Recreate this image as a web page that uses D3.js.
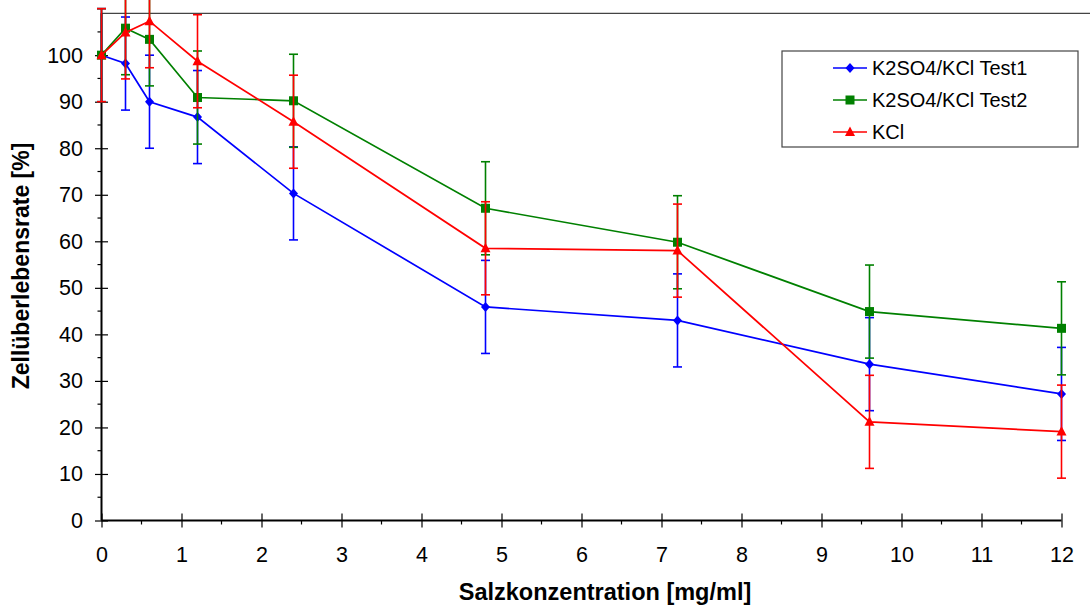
<!DOCTYPE html>
<html><head><meta charset="utf-8">
<script src="https://cdn.jsdelivr.net/npm/d3@7"></script>
<style>body{margin:0;background:#fff}svg{display:block}text{font-family:Arial,"Liberation Sans",sans-serif}</style>
</head><body><svg id="c" width="1090" height="611"></svg>
<script>
const concentrations = [0, 0.3, 0.6, 1.2, 2.4, 4.8, 7.2, 9.6, 12];
const test1 = [100, 98.2, 90.0, 86.7, 70.3, 45.9, 43.0, 33.6, 27.2];
const test1Err = [10, 10, 10, 10, 10, 10, 10, 10, 10];
const test2 = [100, 105.8, 103.4, 90.9, 90.2, 67.1, 59.8, 44.9, 41.3];
const test2Err = [10, 10, 10, 10, 10, 10, 10, 10, 10];
const kcl = [100, 104.9, 107.3, 98.7, 85.7, 58.5, 58.0, 21.2, 19.1];
const kclErr = [10, 10, 10, 10, 10, 10, 10, 10, 10];
const seriesNames = ["K2SO4/KCl Test1", "K2SO4/KCl Test2", "KCl"];
const xTicks = [0,1,2,3,4,5,6,7,8,9,10,11,12];
const yTicks = [0,10,20,30,40,50,60,70,80,90,100];

const series = [
  {name: seriesNames[0], vals: test1, err: test1Err, color: "#0000FF", marker: "diamond"},
  {name: seriesNames[1], vals: test2, err: test2Err, color: "#008000", marker: "square"},
  {name: seriesNames[2], vals: kcl, err: kclErr, color: "#FF0000", marker: "triangle"}
];

const svg = d3.select("#c");
const x = d3.scaleLinear().domain([0, 12]).range([101.5, 1061.5]);
const y = d3.scaleLinear().domain([0, 109]).range([520.5, 13.3]);

// top border line
svg.append("line").attr("x1", x(0)).attr("x2", 1090).attr("y1", y(109)).attr("y2", y(109))
  .attr("stroke", "#444").attr("stroke-width", 1.2);

// minor ticks
const yMinor = d3.range(5, 109, 10);
svg.append("g").selectAll("line").data(yMinor).join("line")
  .attr("x1", x(0) - 4).attr("x2", x(0)).attr("y1", d => y(d)).attr("y2", d => y(d))
  .attr("stroke", "#000").attr("stroke-width", 1.2);
const xMinor = d3.range(0.5, 12, 1);
svg.append("g").selectAll("line").data(xMinor).join("line")
  .attr("x1", d => x(d)).attr("x2", d => x(d)).attr("y1", y(0)).attr("y2", y(0) + 4)
  .attr("stroke", "#000").attr("stroke-width", 1.2);

// axes
const yAxis = svg.append("g").attr("transform", `translate(${x(0)},0)`)
  .call(d3.axisLeft(y).tickValues(yTicks).tickSize(6.5).tickPadding(12).tickFormat(d3.format("d")));
yAxis.selectAll(".tick line").attr("x1", 6.5).attr("x2", -6.5);
const xAxis = svg.append("g").attr("transform", `translate(0,${y(0)})`)
  .call(d3.axisBottom(x).tickValues(xTicks).tickSize(7).tickPadding(19).tickFormat(d3.format("d")));
xAxis.selectAll(".tick line").attr("y1", -7).attr("y2", 7);
[yAxis, xAxis].forEach(a => {
  a.select(".domain").attr("stroke", "#000").attr("stroke-width", 2);
  a.selectAll(".tick line").attr("stroke", "#000").attr("stroke-width", 1.2);
  a.selectAll("text").attr("font-size", 21.5).attr("fill", "#000")
    .attr("font-family", "Arial, 'Liberation Sans', sans-serif");
});
yAxis.select(".domain").attr("d", `M0,${y(0)}V${y(109)}`);
xAxis.select(".domain").attr("d", `M${x(0)},0H${x(12)}`);

// axis titles
svg.append("text").attr("transform", "translate(29,266) rotate(-90)")
  .attr("text-anchor", "middle").attr("font-size", 23).attr("font-weight", "bold").text("Zellüberlebensrate [%]");
svg.append("text").attr("x", 605).attr("y", 600)
  .attr("text-anchor", "middle").attr("font-size", 23.5).attr("font-weight", "bold").text("Salzkonzentration [mg/ml]");

function drawMarker(g, type, cx, cy, color) {
  if (type === "diamond") {
    g.append("path").attr("d", `M${cx},${cy-5}L${cx+4.5},${cy}L${cx},${cy+5}L${cx-4.5},${cy}Z`).attr("fill", color);
  } else if (type === "square") {
    g.append("rect").attr("x", cx-4.5).attr("y", cy-4.5).attr("width", 9).attr("height", 9).attr("fill", color);
  } else {
    g.append("path").attr("d", `M${cx},${cy-5.5}L${cx+5},${cy+4}L${cx-5},${cy+4}Z`).attr("fill", color);
  }
}

const line = d3.line().x(d => x(d[0])).y(d => y(d[1]));
series.forEach(s => {
  const g = svg.append("g");
  const pts = concentrations.map((c, i) => [c, s.vals[i], s.err[i]]);
  // error bars
  pts.forEach(p => {
    const cx = x(p[0]), top = y(p[1] + p[2]), bot = y(p[1] - p[2]);
    g.append("line").attr("x1", cx).attr("x2", cx).attr("y1", top).attr("y2", bot)
      .attr("stroke", s.color).attr("stroke-width", 1.6);
    [top, bot].forEach(yy => g.append("line").attr("x1", cx-4.5).attr("x2", cx+4.5).attr("y1", yy).attr("y2", yy)
      .attr("stroke", s.color).attr("stroke-width", 1.6));
  });
  g.append("path").datum(pts).attr("d", line).attr("fill", "none").attr("stroke", s.color).attr("stroke-width", 1.7);
  pts.forEach(p => drawMarker(g, s.marker, x(p[0]), y(p[1]), s.color));
});

// legend
const lg = svg.append("g");
lg.append("rect").attr("x", 782).attr("y", 51).attr("width", 296).attr("height", 96)
  .attr("fill", "#fff").attr("stroke", "#444").attr("stroke-width", 1.2);
const legY = [68, 100, 132];
series.forEach((s, i) => {
  lg.append("line").attr("x1", 833).attr("x2", 867).attr("y1", legY[i]).attr("y2", legY[i])
    .attr("stroke", s.color).attr("stroke-width", 1.7);
  drawMarker(lg, s.marker, 850, legY[i], s.color);
  lg.append("text").attr("x", 872).attr("y", legY[i]).attr("dy", "0.36em")
    .attr("font-size", 20).attr("fill", "#000").text(s.name);
});
</script></body></html>
